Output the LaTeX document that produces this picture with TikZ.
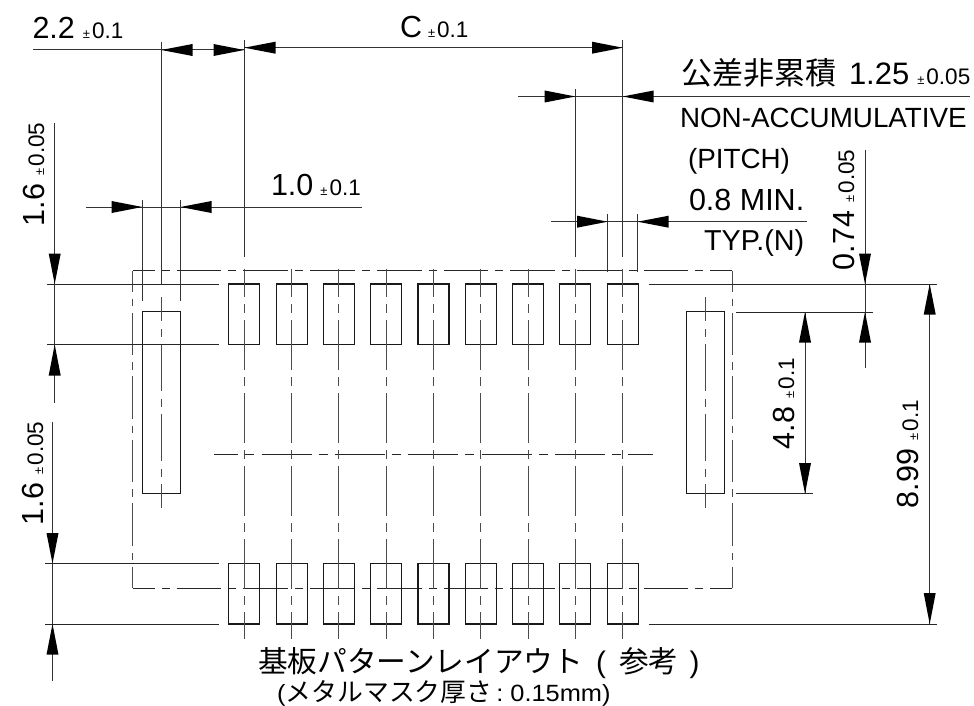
\documentclass[tikz,border=0pt]{standalone}
\usepackage{fontspec}
\setmainfont{Liberation Sans}
\newfontfamily\cjk{Noto Sans CJK JP}
\newfontfamily\wide[FakeStretch=1.08]{Liberation Sans}
\newcommand{\fsz}[1]{\fontsize{#1}{#1}\selectfont}
\newcommand{\tolr}[3][22.5]{\hspace{#2}{\fsz{13}±}\hspace{2pt}\fsz{#1}#3}
\newcommand{\arh}[3]{\fill[black] (#1,#2) -- (#3,#2-6) -- (#3,#2+6) -- cycle;}
\newcommand{\arv}[3]{\fill[black] (#1,#2) -- (#1-6,#3) -- (#1+6,#3) -- cycle;}
\tikzset{
  thin line/.style={line width=1pt,black!80},
  ext line/.style={line width=1pt,black!85},
  pad/.style={line width=1.1pt,black!90},
  vcl/.style={line width=1pt,black!70,dash pattern=on 50pt off 7pt on 9pt off 7pt},
  scl/.style={line width=1pt,black!70,dash pattern=on 47pt off 7.5pt on 8pt off 7.5pt},
  hcl/.style={line width=1pt,black!85,dash pattern=on 50pt off 7pt on 9pt off 7.3pt,dash phase=25.6pt},
  outh/.style={line width=1pt,black!85,dash pattern=on 44.7pt off 7pt on 8pt off 7pt,dash phase=22.5pt},
  outv/.style={line width=1pt,black!70,dash pattern=on 42.5pt off 7pt on 7.5pt off 6.5pt,dash phase=21.5pt},
  lbl/.style={inner sep=0pt,outer sep=0pt,anchor=base west,text=black},
  big/.style={lbl,font=\fsz{30.5}},
  mid/.style={lbl,font=\fsz{27.8}},
}
\begin{document}
\begin{tikzpicture}[x=1pt,y=-1pt]
\useasboundingbox (0,0) rectangle (974,706);
\fill[white] (0,0) rectangle (974,706);

% outline
\draw[outh] (132.5,270.5) -- (732,270.5);
\draw[outh] (132.5,588) -- (732,588);
\draw[outv] (132.5,270.5) -- (132.5,588);
\draw[outv] (732,270.5) -- (732,588);

% horizontal centre line
\draw[hcl] (214,454) -- (653,454);

% pads and their centre lines
\foreach \x in {244.3,291.6,338.9,386.2,433.5,480.8,528.1,575.4,622.7}{
  \draw[pad] (\x-15.5,284) rectangle (\x+15.5,344.5);
  \draw[pad] (\x-15.5,563.5) rectangle (\x+15.5,624);
  \draw[vcl,dash phase=21.3pt] (\x,268.7) -- (\x,639);
}
\draw[pad] (142.3,311.8) rectangle (180.6,493.6);
\draw[pad] (686.6,311.8) rectangle (724.6,493.6);
\draw[scl,dash phase=22.7pt] (161.3,296.7) -- (161.3,508);
\draw[scl,dash phase=22.7pt] (705.8,296.7) -- (705.8,508);

% extension lines, left
\draw[ext line] (47,284) -- (218.5,284);
\draw[ext line] (47,344.5) -- (218.5,344.5);
\draw[ext line] (45,563.5) -- (218.5,563.5);
\draw[ext line] (45,624) -- (218.5,624);
% extension lines, right
\draw[ext line] (649,284) -- (937,284);
\draw[ext line] (649,624) -- (937,624);
\draw[ext line] (736,312) -- (873,312);
\draw[ext line] (736,493.6) -- (813,493.6);
% extension lines, top
\draw[thin line] (161.3,42) -- (161.3,284);
\draw[thin line] (244.3,40) -- (244.3,257);
\draw[thin line] (622.7,40) -- (622.7,257);
\draw[thin line] (575.4,89) -- (575.4,257);
\draw[thin line] (142.4,199.5) -- (142.4,301);
\draw[thin line] (180.5,199.5) -- (180.5,301);
\draw[thin line] (607.7,214) -- (607.7,272);
\draw[thin line] (637.5,214) -- (637.5,272);

% dimension lines, horizontal
\draw[thin line] (33,50) -- (244.3,50);
\arh{161.3}{50}{192.5} \arh{244.3}{50}{213.5}
\draw[thin line] (244.3,47.7) -- (622.7,47.7);
\arh{244.3}{47.7}{275.5} \arh{622.7}{47.7}{592}
\draw[thin line] (518,96.5) -- (970,96.5);
\arh{575.4}{96.5}{544.7} \arh{622.7}{96.5}{653.7}
\draw[thin line] (85.5,207) -- (361.5,207);
\arh{142.4}{207}{111.5} \arh{180.5}{207}{211.5}
\draw[thin line] (550.7,221.7) -- (806.7,221.7);
\arh{607.7}{221.7}{577} \arh{637.5}{221.7}{668.7}

% dimension lines, vertical
\draw[thin line] (54.7,123) -- (54.7,403);
\arv{54.7}{284}{253.5} \arv{54.7}{344.5}{375.5}
\draw[thin line] (52.5,422) -- (52.5,681);
\arv{52.5}{563.5}{533} \arv{52.5}{624}{654.7}
\draw[thin line] (865,149.5) -- (865,368);
\arv{865}{284}{253.5} \arv{865}{312}{342.5}
\draw[thin line] (805,312) -- (805,493.6);
\arv{805}{312}{342.5} \arv{805}{493.6}{463}
\draw[thin line] (929.7,284) -- (929.7,624);
\arv{929.7}{284}{314.5} \arv{929.7}{624}{593}

% labels
\node[big] (t22) at (32.5,39) {2.2\tolr{8pt}{0.1}};
\node[big] (tC) at (400,38) {C\tolr{6pt}{0.1}};
\node[big] (t10) at (271,195) {1.0\tolr{7pt}{0.1}};
\node[lbl] (tkousa) at (681,85) {{\cjk\fsz{31}公差非累積}\hspace{13pt}{\fsz{31}1.25}\tolr{8pt}{0.05}};
\node[mid] (tnon) at (680,128) {NON-ACCUMULATIVE};
\node[mid] (tpitch) at (688,168) {(PITCH)};
\node[big] (tmin) at (689,210) {0.8 MIN.};
\node[lbl,font=\fsz{28.8}] (ttyp) at (704,250) {TYP.(N)};
\node[big,rotate=90] (t16a) at (44,226) {1.6\tolr{8pt}{0.05}};
\node[big,rotate=90] (t16b) at (43,525) {1.6\tolr{8pt}{0.05}};
\node[big,rotate=90] (t074) at (854,270) {0.74\tolr{8pt}{0.05}};
\node[big,rotate=90] (t48) at (794,449) {4.8\tolr{8pt}{0.1}};
\node[big,rotate=90] (t899) at (918,508) {8.99\tolr{8pt}{0.1}};
\node[lbl] (ttitle) at (258,672) {\cjk\fsz{29.7}基板パターンレイアウト\hspace{13pt}{\fontspec{Liberation Sans}(}\hspace{13pt}参考\hspace{11pt}{\fontspec{Liberation Sans})}};
\node[lbl] (tsub) at (277,701) {\wide\fsz{23.5}(\hspace{0.5pt}{\cjk\fsz{25.8}メタルマスク厚さ}\hspace{4pt}:\hspace{7pt}0.15mm)};
\end{tikzpicture}
\end{document}
